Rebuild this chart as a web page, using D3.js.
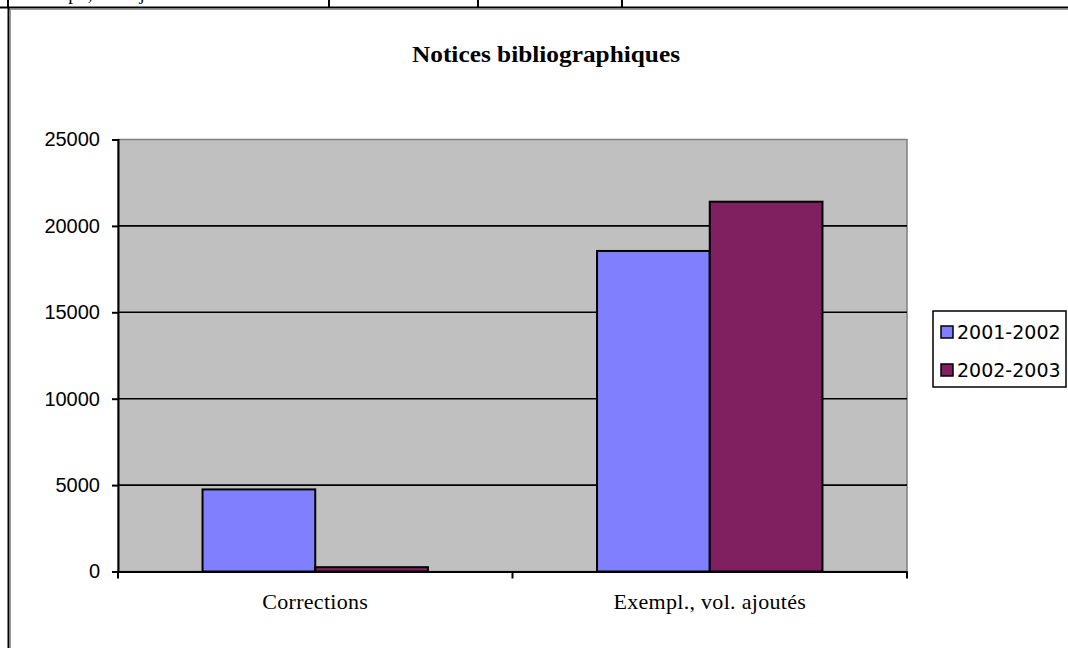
<!DOCTYPE html>
<html><head><meta charset="utf-8">
<script src="https://cdn.jsdelivr.net/npm/d3@7"></script>
<style>
html,body{margin:0;padding:0;background:#fff;}
svg{display:block;}
</style></head>
<body>
<svg id="chart" width="1068" height="648"></svg>
<script>
const categories = ["Corrections", "Exempl., vol. ajoutés"];
const seriesNames = ["2001-2002", "2002-2003"];
const values2001 = [4750, 18550];
const values2002 = [250, 21400];
const yTickValues = [0, 5000, 10000, 15000, 20000, 25000];
const chartTitle = "Notices bibliographiques";
const colors = ["#8080FF", "#802060"];

const svg = d3.select("#chart");

// partial table row above the chart (cut off by the page top, as in the source)
const tableTop = svg.append("g");
[8, 329, 478, 622].forEach(x => tableTop.append("line").attr("x1", x).attr("x2", x).attr("y1", 0).attr("y2", 8).attr("stroke", "#000").attr("stroke-width", 2));
tableTop.append("text").attr("x", 24).attr("y", 0).attr("font-family", "Liberation Serif").attr("font-size", 19).text("Exempl., vol. ajoutés");
tableTop.append("text").attr("x", 468).attr("y", 0).attr("text-anchor", "end").attr("font-family", "Liberation Serif").attr("font-size", 19).text("18550");
tableTop.append("text").attr("x", 612).attr("y", 0).attr("text-anchor", "end").attr("font-family", "Liberation Serif").attr("font-size", 19).text("21400");

// chart frame
svg.append("line").attr("x1", 0).attr("x2", 1068).attr("y1", 7.5).attr("y2", 7.5).attr("stroke", "#000").attr("stroke-width", 2);
svg.append("line").attr("x1", 9).attr("x2", 1068).attr("y1", 9.5).attr("y2", 9.5).attr("stroke", "#999").attr("stroke-width", 1);
svg.append("line").attr("x1", 8.5).attr("x2", 8.5).attr("y1", 7).attr("y2", 648).attr("stroke", "#000").attr("stroke-width", 2);
svg.append("line").attr("x1", 10.5).attr("x2", 10.5).attr("y1", 9).attr("y2", 648).attr("stroke", "#999").attr("stroke-width", 1);

const plot = {left: 118, right: 907, top: 139.5, bottom: 571.5};

const x = d3.scaleBand().domain(categories).range([plot.left, plot.right]).paddingInner(0).paddingOuter(0);
const xs = d3.scaleBand().domain(seriesNames).range([0, x.bandwidth()]).paddingInner(0).paddingOuter(0.75);
const y = d3.scaleLinear().domain([0, 25000]).range([plot.bottom, plot.top]);

// plot area
svg.append("rect").attr("x", plot.left).attr("y", plot.top).attr("width", plot.right - plot.left).attr("height", plot.bottom - plot.top)
  .attr("fill", "#C0C0C0").attr("stroke", "#808080").attr("stroke-width", 1.5);

// gridlines
svg.append("g").selectAll("line").data(yTickValues.filter(v => v > 0 && v < 25000)).join("line")
  .attr("x1", plot.left).attr("x2", plot.right).attr("y1", d => y(d)).attr("y2", d => y(d))
  .attr("stroke", "#000").attr("stroke-width", 1.6);

// bars
const data = categories.map((c, i) => ({cat: c, vals: [values2001[i], values2002[i]]}));
const groups = svg.append("g").selectAll("g").data(data).join("g").attr("transform", d => `translate(${x(d.cat)},0)`);
groups.selectAll("rect").data(d => d.vals.map((v, j) => ({s: seriesNames[j], v, j}))).join("rect")
  .attr("x", d => xs(d.s)).attr("width", xs.bandwidth())
  .attr("y", d => y(d.v)).attr("height", d => y(0) - y(d.v))
  .attr("fill", d => colors[d.j]).attr("stroke", "#000").attr("stroke-width", 2);

// y axis
const yAxis = d3.axisLeft(y).tickValues(yTickValues).tickSize(6).tickPadding(12).tickFormat(d3.format("d"));
const gy = svg.append("g").attr("transform", `translate(${plot.left},0)`).call(yAxis);
gy.select(".domain").attr("stroke", "#000").attr("stroke-width", 2);
gy.selectAll(".tick line").attr("stroke", "#000").attr("stroke-width", 2);
gy.selectAll(".tick text").attr("font-family", "Liberation Sans, Arial, sans-serif").attr("font-size", 20).attr("fill", "#000");

// x axis
const xAxis = d3.axisBottom(x).tickSize(0).tickPadding(22);
const gx = svg.append("g").attr("transform", `translate(0,${plot.bottom})`).call(xAxis);
gx.select(".domain").attr("stroke", "#000").attr("stroke-width", 2);
gx.selectAll(".tick text").attr("font-family", "Liberation Serif, Times New Roman, serif").attr("font-size", 22).attr("letter-spacing", 0.3).attr("fill", "#000");
const boundaries = [x.range()[0]].concat(categories.map(c => x(c) + x.bandwidth()));
gx.append("g").selectAll("line").data(boundaries).join("line")
  .attr("x1", d => d).attr("x2", d => d).attr("y1", 0).attr("y2", 7).attr("stroke", "#000").attr("stroke-width", 2);

// title
svg.append("text").attr("x", 546).attr("y", 62).attr("text-anchor", "middle")
  .attr("font-family", "Liberation Serif, Times New Roman, serif").attr("font-weight", "bold").attr("font-size", 24)
  .attr("textLength", 268).attr("lengthAdjust", "spacingAndGlyphs")
  .text(chartTitle);

// legend
const lg = svg.append("g").attr("transform", "translate(933,311)");
lg.append("rect").attr("width", 133).attr("height", 76).attr("fill", "#fff").attr("stroke", "#000").attr("stroke-width", 1.5);
const items = lg.selectAll("g").data(seriesNames).join("g").attr("transform", (d, i) => `translate(8,${21 + i * 38})`);
items.append("rect").attr("x", 0).attr("y", -6).attr("width", 12).attr("height", 12).attr("fill", (d, i) => colors[i]).attr("stroke", "#000").attr("stroke-width", 1.5);
items.append("text").attr("x", 16).attr("y", 0).attr("dy", "0.36em").attr("font-family", "DejaVu Sans, Verdana, sans-serif").attr("font-size", 19).text(d => d);
</script>
</body></html>
